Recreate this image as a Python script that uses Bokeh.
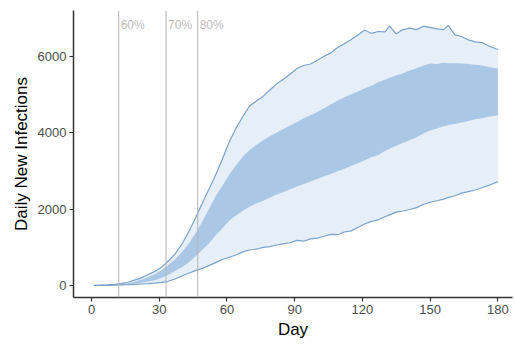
from bokeh.plotting import figure
from bokeh.models import Span, Label, FixedTicker, Range1d
from bokeh.embed import file_html
from bokeh.resources import INLINE

days = [1, 4, 7, 10, 13, 16, 19, 22, 25, 28, 31, 34, 37, 40, 43, 46, 49, 52, 55, 58,
        61, 64, 67, 70, 73, 76, 79, 82, 85, 88, 91, 94, 97, 100, 103, 106, 109, 112, 115, 118,
        121, 124, 127, 130, 132, 135, 138, 141, 144, 147, 150, 153, 156, 158, 161, 164, 167, 170, 173, 176, 180]
outer_upper = [5, 10, 16, 28, 48, 85, 140, 200, 280, 370, 480, 640, 830, 1080, 1400, 1760, 2150, 2520, 2900, 3320,
               3760, 4120, 4420, 4700, 4830, 4950, 5120, 5280, 5400, 5540, 5680, 5760, 5800, 5900, 6000, 6090, 6230, 6330, 6440, 6560,
               6690, 6600, 6650, 6640, 6800, 6590, 6700, 6740, 6700, 6790, 6760, 6720, 6700, 6810, 6560, 6520, 6430, 6380, 6360, 6270, 6180]
inner_upper = [4, 8, 12, 22, 38, 62, 100, 150, 215, 295, 400, 530, 690, 870, 1090, 1360, 1670, 2000, 2340, 2620,
               2900, 3150, 3370, 3550, 3680, 3800, 3910, 4000, 4100, 4190, 4280, 4380, 4460, 4540, 4640, 4740, 4840, 4930, 5010, 5080,
               5160, 5230, 5320, 5390, 5440, 5500, 5560, 5630, 5690, 5760, 5810, 5800, 5830, 5820, 5820, 5810, 5800, 5780, 5760, 5720, 5680]
inner_lower = [2, 5, 8, 14, 24, 36, 55, 75, 105, 140, 195, 280, 380, 480, 600, 760, 930, 1100, 1310, 1500,
               1700, 1830, 1960, 2060, 2150, 2220, 2300, 2380, 2450, 2520, 2590, 2660, 2720, 2790, 2860, 2920, 2990, 3060, 3130, 3200,
               3280, 3360, 3420, 3520, 3580, 3660, 3740, 3800, 3880, 3980, 4060, 4110, 4170, 4200, 4230, 4270, 4310, 4350, 4380, 4420, 4460]
outer_lower = [1, 3, 5, 8, 14, 20, 30, 40, 50, 62, 80, 110, 170, 250, 320, 390, 450, 520, 600, 680,
               740, 800, 880, 930, 950, 1000, 1020, 1060, 1090, 1120, 1180, 1160, 1220, 1240, 1290, 1340, 1330, 1400, 1430, 1520,
               1610, 1680, 1720, 1800, 1850, 1920, 1950, 1990, 2040, 2120, 2180, 2220, 2260, 2300, 2350, 2420, 2460, 2500, 2560, 2620, 2720]

coverage_days = [12, 33, 47]
coverage_labels = ["60%", "70%", "80%"]
x_ticks = [0, 30, 60, 90, 120, 150, 180]
y_ticks = [0, 2000, 4000, 6000]

FONT = "Liberation Sans"

p = figure(width=515, height=345, output_backend="svg", toolbar_location=None,
           x_range=Range1d(-8, 186.5), y_range=Range1d(-314, 7200))
p.min_border_left = 73
p.min_border_right = 3
p.min_border_top = 10
p.min_border_bottom = 48
p.outline_line_color = None
p.xgrid.visible = False
p.ygrid.visible = False

p.varea(x=days, y1=outer_lower, y2=outer_upper, fill_color="#e6eef8")
p.varea(x=days, y1=inner_lower, y2=inner_upper, fill_color="#abc7e6")
p.line(days, outer_upper, line_color="#7ba2cd", line_width=1.2)
p.line(days, outer_lower, line_color="#7ba2cd", line_width=1.2)

for d, lab in zip(coverage_days, coverage_labels):
    p.add_layout(Span(location=d, dimension="height", line_color="#b8b8b8", line_width=1.3, line_alpha=0.85))
    p.add_layout(Label(x=d, y=7010, x_offset=2, text=lab, text_baseline="top", text_font=FONT,
                       text_font_size="12px", text_color="#bdbdbd"))

for ax in (p.xaxis[0], p.yaxis[0]):
    ax.axis_line_color = "#333333"
    ax.axis_line_width = 1.5
    ax.major_tick_line_color = "#333333"
    ax.major_tick_line_width = 1.2
    ax.major_tick_out = 4
    ax.major_tick_in = 0
    ax.minor_tick_line_color = None
    ax.major_label_text_font = FONT
    ax.major_label_text_font_size = "13px"
    ax.major_label_text_color = "#4d4d4d"
    ax.axis_label_text_font = FONT
    ax.axis_label_text_font_size = "17px"
    ax.axis_label_text_font_style = "normal"
    ax.axis_label_text_color = "#000000"

p.xaxis[0].ticker = FixedTicker(ticks=x_ticks)
p.yaxis[0].ticker = FixedTicker(ticks=y_ticks)
p.xaxis[0].axis_label = "Day"
p.yaxis[0].axis_label = "Daily New Infections"
p.xaxis[0].axis_label_standoff = 3
p.yaxis[0].axis_label_standoff = 4
p.xaxis[0].major_label_standoff = 3
p.yaxis[0].major_label_standoff = 3

open("out.html", "w").write(file_html(p, INLINE))
